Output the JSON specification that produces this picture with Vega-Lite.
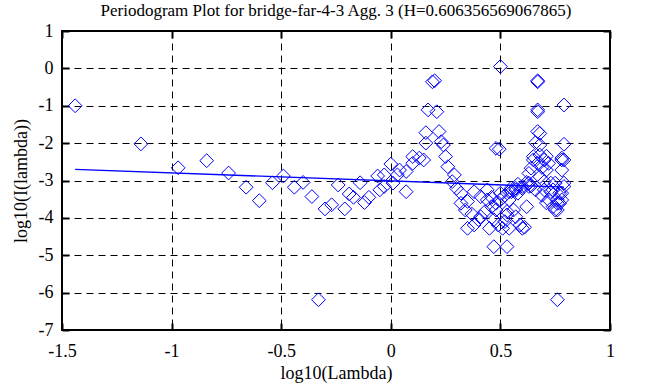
{
  "$schema": "https://vega.github.io/schema/vega-lite/v6.json",
  "autosize": {"type": "none"},
  "padding": {"left": 62, "top": 31, "right": 53, "bottom": 57},
  "width": 548,
  "height": 299,
  "background": "white",
  "title": {"text": "Periodogram Plot for bridge-far-4-3 Agg. 3 (H=0.606356569067865)", "font": "Liberation Serif", "fontSize": 17, "fontWeight": "normal", "color": "black", "offset": 2, "anchor": "middle"},
  "config": {
    "view": {"stroke": "black", "strokeWidth": 2},
    "axis": {"labelFont": "Liberation Serif", "titleFont": "Liberation Serif", "labelFontSize": 18, "titleFontSize": 18, "titleFontWeight": "normal", "labelColor": "black", "titleColor": "black", "domain": false, "tickColor": "black", "tickWidth": 2, "tickSize": -7, "gridColor": "black", "gridOpacity": 1, "gridDash": [7, 5], "gridWidth": 1, "labelExpr": "datum.value + ''"}
  },
  "datasets": {
    "pts": [
      {"x": -1.44, "y": -1.0}, {"x": -1.14, "y": -2.02}, {"x": -0.97, "y": -2.66}, {"x": -0.84, "y": -2.47},
      {"x": -0.74, "y": -2.8}, {"x": -0.66, "y": -3.18}, {"x": -0.6, "y": -3.54}, {"x": -0.54, "y": -3.06},
      {"x": -0.49, "y": -2.88}, {"x": -0.44, "y": -3.18}, {"x": -0.4, "y": -3.05}, {"x": -0.36, "y": -3.43},
      {"x": -0.33, "y": -6.19}, {"x": -0.3, "y": -3.76}, {"x": -0.27, "y": -3.65}, {"x": -0.24, "y": -3.12},
      {"x": -0.21, "y": -3.76}, {"x": -0.19, "y": -3.36}, {"x": -0.17, "y": -3.45}, {"x": -0.14, "y": -3.06},
      {"x": -0.12, "y": -3.59}, {"x": -0.1, "y": -3.45}, {"x": -0.06, "y": -2.88}, {"x": -0.05, "y": -3.25},
      {"x": -0.03, "y": -3.16}, {"x": -0.03, "y": -2.85}, {"x": 0.0, "y": -2.56}, {"x": 0.01, "y": -3.07},
      {"x": 0.03, "y": -2.85}, {"x": 0.04, "y": -2.72}, {"x": 0.07, "y": -2.76}, {"x": 0.07, "y": -3.3},
      {"x": 0.1, "y": -2.36}, {"x": 0.1, "y": -2.54}, {"x": 0.13, "y": -2.4}, {"x": 0.15, "y": -2.45},
      {"x": 0.16, "y": -2.0}, {"x": 0.16, "y": -1.72}, {"x": 0.17, "y": -1.11}, {"x": 0.19, "y": -0.36},
      {"x": 0.2, "y": -0.33}, {"x": 0.21, "y": -1.16}, {"x": 0.22, "y": -1.69}, {"x": 0.23, "y": -1.96},
      {"x": 0.24, "y": -2.05}, {"x": 0.25, "y": -2.36}, {"x": 0.26, "y": -2.63}, {"x": 0.28, "y": -3.03},
      {"x": 0.29, "y": -2.85}, {"x": 0.3, "y": -3.21}, {"x": 0.32, "y": -3.34}, {"x": 0.32, "y": -3.61},
      {"x": 0.34, "y": -3.79}, {"x": 0.35, "y": -3.56}, {"x": 0.35, "y": -4.28}, {"x": 0.37, "y": -3.9},
      {"x": 0.38, "y": -4.19}, {"x": 0.38, "y": -3.3}, {"x": 0.4, "y": -4.05}, {"x": 0.41, "y": -3.43},
      {"x": 0.41, "y": -3.97}, {"x": 0.43, "y": -3.83}, {"x": 0.44, "y": -3.52}, {"x": 0.44, "y": -3.25},
      {"x": 0.45, "y": -4.28}, {"x": 0.46, "y": -3.7}, {"x": 0.46, "y": -3.45}, {"x": 0.47, "y": -4.05},
      {"x": 0.47, "y": -4.77}, {"x": 0.48, "y": -2.14}, {"x": 0.495, "y": -2.16}, {"x": 0.48, "y": -3.61},
      {"x": 0.48, "y": -3.79}, {"x": 0.49, "y": -4.19}, {"x": 0.5, "y": 0.05}, {"x": 0.5, "y": -3.34},
      {"x": 0.5, "y": -3.52}, {"x": 0.51, "y": -4.28}, {"x": 0.52, "y": -4.1}, {"x": 0.52, "y": -3.4},
      {"x": 0.53, "y": -3.92}, {"x": 0.53, "y": -3.83}, {"x": 0.53, "y": -4.77}, {"x": 0.54, "y": -3.3},
      {"x": 0.54, "y": -3.52}, {"x": 0.54, "y": -4.28}, {"x": 0.55, "y": -3.3}, {"x": 0.55, "y": -3.2},
      {"x": 0.56, "y": -3.79}, {"x": 0.57, "y": -3.25}, {"x": 0.57, "y": -3.21}, {"x": 0.57, "y": -3.97},
      {"x": 0.58, "y": -3.34}, {"x": 0.58, "y": -3.1}, {"x": 0.59, "y": -4.19}, {"x": 0.6, "y": -3.16},
      {"x": 0.6, "y": -3.21}, {"x": 0.6, "y": -4.28}, {"x": 0.61, "y": -4.25}, {"x": 0.62, "y": -3.7},
      {"x": 0.62, "y": -3.05}, {"x": 0.63, "y": -3.07}, {"x": 0.63, "y": -3.16}, {"x": 0.63, "y": -2.81},
      {"x": 0.64, "y": -2.67}, {"x": 0.64, "y": -3.15}, {"x": 0.65, "y": -2.45}, {"x": 0.65, "y": -2.36},
      {"x": 0.66, "y": -1.99}, {"x": 0.66, "y": -3.25}, {"x": 0.67, "y": -0.33}, {"x": 0.67, "y": -0.36},
      {"x": 0.67, "y": -1.11}, {"x": 0.67, "y": -1.16}, {"x": 0.67, "y": -1.69}, {"x": 0.67, "y": -2.54},
      {"x": 0.68, "y": -1.74}, {"x": 0.68, "y": -2.05}, {"x": 0.68, "y": -2.32}, {"x": 0.68, "y": -2.9},
      {"x": 0.69, "y": -2.65}, {"x": 0.69, "y": -3.4}, {"x": 0.7, "y": -2.45}, {"x": 0.7, "y": -3.03},
      {"x": 0.7, "y": -3.25}, {"x": 0.71, "y": -2.72}, {"x": 0.71, "y": -2.35}, {"x": 0.71, "y": -3.6},
      {"x": 0.72, "y": -2.54}, {"x": 0.72, "y": -3.52}, {"x": 0.73, "y": -3.07}, {"x": 0.73, "y": -3.3},
      {"x": 0.74, "y": -3.25}, {"x": 0.74, "y": -3.7}, {"x": 0.75, "y": -3.07}, {"x": 0.75, "y": -3.79},
      {"x": 0.76, "y": -3.52}, {"x": 0.76, "y": -3.61}, {"x": 0.76, "y": -3.79}, {"x": 0.76, "y": -6.19},
      {"x": 0.77, "y": -3.34}, {"x": 0.77, "y": -3.61}, {"x": 0.78, "y": -2.4}, {"x": 0.78, "y": -2.45},
      {"x": 0.78, "y": -2.72}, {"x": 0.78, "y": -3.34}, {"x": 0.78, "y": -3.52}, {"x": 0.79, "y": -0.98},
      {"x": 0.79, "y": -2.03}, {"x": 0.79, "y": -2.45}, {"x": 0.79, "y": -3.07}, {"x": 0.79, "y": -3.16}
    ],
    "fit": [
      {"x": -1.44, "y": -2.704},
      {"x": 0.79, "y": -3.179}
    ]
  },
  "resolve": {"axis": {"x": "independent", "y": "independent"}},
  "layer": [
    {
      "data": {"name": "pts"},
      "mark": {"type": "point", "shape": "diamond", "filled": false, "color": "#0000ff", "size": 190, "strokeWidth": 1, "opacity": 1},
      "encoding": {
        "x": {"field": "x", "type": "quantitative", "scale": {"domain": [-1.5, 1], "nice": false, "zero": false},
              "axis": {"orient": "bottom", "values": [-1.5, -1, -0.5, 0, 0.5, 1], "title": "log10(Lambda)", "labelPadding": 19, "titlePadding": 4, "labelFlush": false}},
        "y": {"field": "y", "type": "quantitative", "scale": {"domain": [-7, 1], "nice": false, "zero": false},
              "axis": {"orient": "left", "values": [-7, -6, -5, -4, -3, -2, -1, 0, 1], "title": "log10(I(lambda))", "labelPadding": 16, "titlePadding": 8, "labelFlush": false}}
      }
    },
    {
      "data": {"name": "fit"},
      "mark": {"type": "line", "color": "#0000ff", "strokeWidth": 1.3},
      "encoding": {
        "x": {"field": "x", "type": "quantitative", "scale": {"domain": [-1.5, 1], "nice": false, "zero": false},
              "axis": {"orient": "top", "values": [-1.5, -1, -0.5, 0, 0.5, 1], "labels": false, "title": null, "grid": false}},
        "y": {"field": "y", "type": "quantitative", "scale": {"domain": [-7, 1], "nice": false, "zero": false},
              "axis": {"orient": "right", "values": [-7, -6, -5, -4, -3, -2, -1, 0, 1], "labels": false, "title": null, "grid": false}}
      }
    }
  ]
}
